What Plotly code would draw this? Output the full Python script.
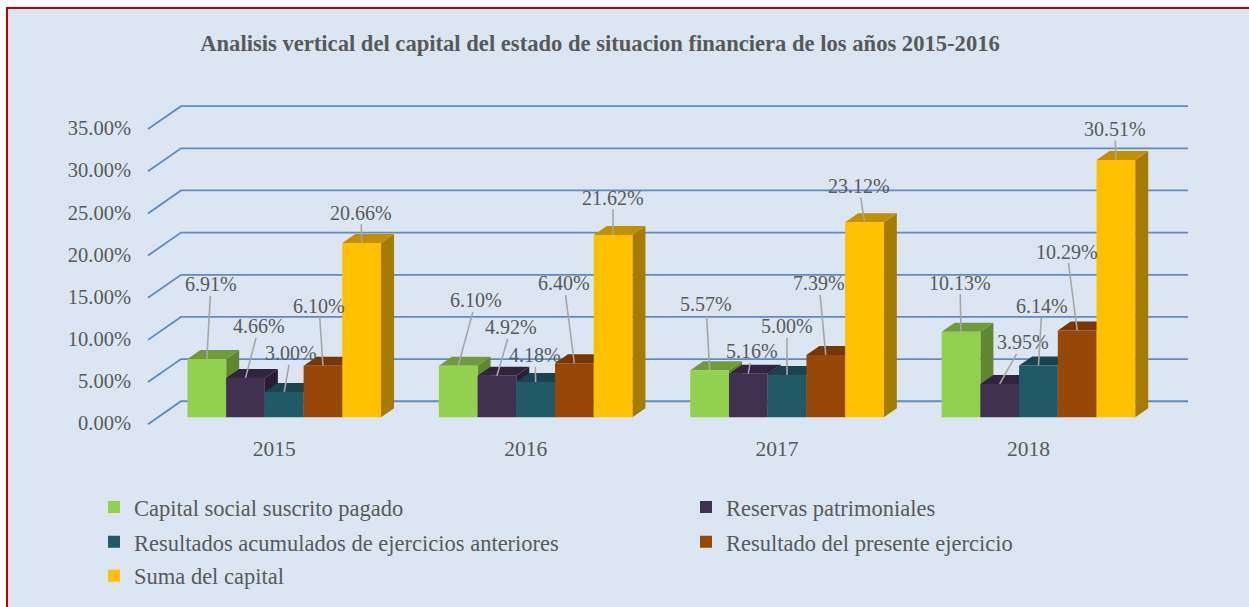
import plotly.graph_objects as go

years = ["2015", "2016", "2017", "2018"]
capital_social = [6.91, 6.10, 5.57, 10.13]
reservas = [4.66, 4.92, 5.16, 3.95]
resultados_acum = [3.00, 4.18, 5.00, 6.14]
resultado_ejercicio = [6.10, 6.40, 7.39, 10.29]
suma_capital = [20.66, 21.62, 23.12, 30.51]
y_ticks = [0, 5, 10, 15, 20, 25, 30, 35]
y_tick_labels = ["0.00%", "5.00%", "10.00%", "15.00%", "20.00%", "25.00%", "30.00%", "35.00%"]

names = ["Capital social suscrito pagado", "Reservas patrimoniales",
         "Resultados acumulados de ejercicios anteriores",
         "Resultado del presente ejercicio", "Suma del capital"]
series = [capital_social, reservas, resultados_acum, resultado_ejercicio, suma_capital]
front = ["#92D050", "#403151", "#215968", "#974706", "#FFC000"]
top = ["#6F9B3C", "#31243F", "#19444F", "#773600", "#C09000"]
side = ["#5F8630", "#2A1E36", "#163B45", "#662E00", "#A67C00"]

# canvas geometry (pixels)
W, H = 1249, 607
HE = H - 2                  # effective paper height once the legends have reserved their room
PL, PR, PT, PB = 138, 1200, 60, 432
X0, XU = 284.25, 251.4      # pixel of group 0, pixels per group
Y0, YU = 418.0, 8.46        # pixel of value 0, pixels per percent
YNUDGE = 0.6
GAP = 0.23
BW = (1 - GAP) / 5
DX, DY = 13 / XU, 9 / YU    # depth of the 3D effect in data units
TEXT = "#595959"
SERIF = "Liberation Serif"
Y_RANGE = [(Y0 + YNUDGE - PB) / YU, (Y0 + YNUDGE - PT) / YU]

def xd(px):
    return (px - X0) / XU

fig = go.Figure()

# back wall lines
gx, gy = [], []
for v in y_ticks:
    gx += [xd(148), xd(181), xd(1188), None]
    gy += [v - 7 / YU, v + 16 / YU, v + 16 / YU, None]
fig.add_trace(go.Scatter(x=gx, y=gy, mode="lines", line=dict(color="#5B8CC6", width=1.8),
                         showlegend=False, hoverinfo="skip"))

xs = list(range(len(years)))

# depth faces, drawn under the fronts
for j, vals in enumerate(series):
    tx, ty, sx, sy = [], [], [], []
    for i, v in enumerate(vals):
        l = i + (j - 2.5) * BW
        r = l + BW
        tx += [l, r, r + DX, l + DX, l, None]
        ty += [v, v, v + DY, v + DY, v, None]
        sx += [r, r + DX, r + DX, r, r, None]
        sy += [0, DY, v + DY, v, 0, None]
    fig.add_trace(go.Scatter(x=sx, y=sy, mode="lines", fill="toself", fillcolor=side[j],
                             line=dict(width=0, color=side[j]), showlegend=False, hoverinfo="skip"))
    fig.add_trace(go.Scatter(x=tx, y=ty, mode="lines", fill="toself", fillcolor=top[j],
                             line=dict(width=0, color=top[j]), showlegend=False, hoverinfo="skip"))

# front faces: on an overlaying axis so they paint over all depth faces
legend_ids = ["legend", "legend2", "legend3", "legend4", "legend5"]
for j, vals in enumerate(series):
    fig.add_trace(go.Bar(x=xs, y=vals, name=names[j], marker=dict(color=front[j], line=dict(width=0)),
                         yaxis="y2", legend=legend_ids[j],
                         hovertemplate="%{y:.2f}%<extra>" + names[j] + "</extra>"))

# label centres on the canvas, per series and year
label_cx = [[211, 476, 706, 960], [259, 511, 752, 1023], [291, 535, 787, 1042],
            [319, 564, 819, 1067], [361, 613, 859, 1115]]
label_cy = [[285, 301, 305, 283], [327, 328, 352, 343], [354, 356, 327, 307],
            [307, 284, 284, 252], [213, 198, 186, 129]]
for j, vals in enumerate(series):
    for i, v in enumerate(vals):
        cx = i + (j - 2) * BW
        fig.add_annotation(x=cx, y=v, yref="y2", text=f"{v:.2f}%", showarrow=True, arrowhead=0,
                           arrowwidth=1.6, arrowcolor="#A6A6A6", standoff=0,
                           ax=label_cx[j][i] - (X0 + cx * XU), ay=label_cy[j][i] - (Y0 - v * YU),
                           font=dict(family=SERIF, size=20, color=TEXT), borderpad=0)

fig.add_shape(type="rect", xref="paper", yref="paper", x0=7 / W, x1=1.01, y0=1 - 8 / HE, y1=-0.02,
              line=dict(color="#C00000", width=2), fillcolor="#DCE6F2", layer="below")

layout_legends = {}
legend_pos = [(94, 509), (686, 509), (94, 544), (686, 544), (94, 578)]
for lid, (lx, ly) in zip(legend_ids, legend_pos):
    layout_legends[lid] = dict(x=lx / W, y=1 - ly / HE, xanchor="left", yanchor="middle",
                               bgcolor="rgba(0,0,0,0)", font=dict(family=SERIF, size=22.5, color=TEXT))

fig.update_layout(
    width=W, height=H, margin=dict(l=0, r=0, t=0, b=0, pad=0),
    paper_bgcolor="white", plot_bgcolor="rgba(0,0,0,0)",
    barmode="group", bargap=GAP, bargroupgap=0, showlegend=True,
    title=dict(text="<b>Analisis vertical del capital del estado de situacion financiera de los años 2015-2016</b>",
               x=600 / W, y=1 - 43 / H, xanchor="center", yanchor="middle", xref="container", yref="container",
               font=dict(family=SERIF, size=22.6, color=TEXT)),
    xaxis=dict(domain=[PL / W, PR / W], range=[xd(PL), xd(PR)], tickvals=xs, ticktext=years, showgrid=False,
               zeroline=False, showline=False, ticks="", ticklabelshift=-10, ticklabelstandoff=3,
               tickfont=dict(family=SERIF, size=21.5, color=TEXT)),
    yaxis=dict(domain=[1 - PB / HE, 1 - PT / HE], range=Y_RANGE, tickvals=y_ticks,
               ticktext=y_tick_labels, showgrid=False, zeroline=False, showline=False, ticks="",
               ticklabelshift=6, ticklabelstandoff=6, tickfont=dict(family=SERIF, size=20.5, color=TEXT)),
    yaxis2=dict(domain=[1 - PB / HE, 1 - PT / HE], range=Y_RANGE, overlaying="y", visible=False),
    **layout_legends,
)

fig.write_html("out.html", config={"displayModeBar": False},
               post_script="document.body.style.margin='0';")
